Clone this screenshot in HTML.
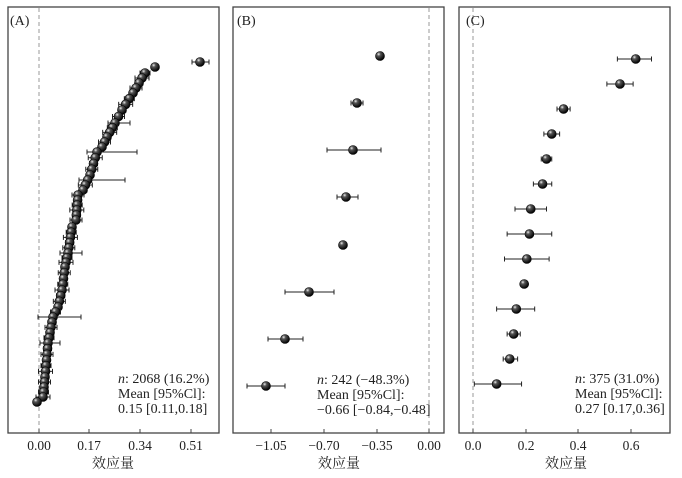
<!DOCTYPE html>
<html><head><meta charset="utf-8"><style>
body{margin:0;background:#fff}
svg text{font-family:"Liberation Serif","Noto Serif CJK SC",serif;fill:#222}
</style></head><body>
<svg id="s" width="682" height="473" xmlns="http://www.w3.org/2000/svg">
<defs><radialGradient id="g" cx="0.35" cy="0.3" r="0.7"><stop offset="0" stop-color="#eee"/><stop offset="0.3" stop-color="#555"/><stop offset="1" stop-color="#000"/></radialGradient></defs>
<g id="c"></g>
</svg>
<script>
const s=document.getElementById('c');let h='';
function frame(x1,x2,y1,y2){h+=`<rect x="${x1}" y="${y1}" width="${x2-x1}" height="${y2-y1}" fill="none" stroke="#444" stroke-width="1.3"/>`;}
function dash(x){h+=`<line x1="${x}" y1="8" x2="${x}" y2="432" stroke="#999" stroke-width="1" stroke-dasharray="4,3"/>`;}
function tick(x,l){h+=`<line x1="${x}" y1="433" x2="${x}" y2="429" stroke="#444"/><text x="${x}" y="450" font-size="13.5" text-anchor="middle">${l}</text>`;}
function pt(x,y,a,b){if(a!=null){h+=`<line x1="${a}" y1="${y}" x2="${b}" y2="${y}" stroke="#222" stroke-width="1"/><line x1="${a}" y1="${y-2.5}" x2="${a}" y2="${y+2.5}" stroke="#222"/><line x1="${b}" y1="${y-2.5}" x2="${b}" y2="${y+2.5}" stroke="#222"/>`;}
h+=`<circle cx="${x}" cy="${y}" r="4.5" fill="url(#g)" stroke="#000" stroke-width="0.6"/>`;}
function txt(x,y,a,b,c){h+=`<text x="${x}" y="${y}" font-size="14"><tspan font-style="italic">n</tspan>${a}</text><text x="${x}" y="${y+15}" font-size="14">${b}</text><text x="${x}" y="${y+30}" font-size="14">${c}</text>`;}
// A
frame(8,219,7,433);dash(39);
[[39,'0.00'],[89,'0.17'],[140,'0.34'],[191,'0.51']].forEach(t=>tick(...t));
h+=`<text x="10" y="25" font-size="14">(A)</text>`;
const P=[[155,67],[145,73],[133,93],[122,110],[115,123],[107,137],[102,147],[97,152],[90,175],[83,190],[78,195],[76,220],[72,227],[68,253],[65,267],[62,290],[58,307],[53,317],[48,343],[45,377],[43,397]];
let pts=[];
for(let i=0;i<P.length-1;i++){const[a,b]=P[i],[c,d]=P[i+1];const n=Math.max(1,Math.round((d-b)/5.3));for(let k=0;k<n;k++){pts.push([a+(c-a)*k/n,b+(d-b)*k/n]);}}
pts.push([43,397]);
const wide={};wide[Math.round(pts.length*0.25)]=[87,137];wide[Math.round(pts.length*0.74)]=[38,81];wide[Math.round(pts.length*0.34)]=[79,125];wide[Math.round(pts.length*0.82)]=[40,60];wide[Math.round(pts.length*0.55)]=[60,82];wide[Math.round(pts.length*0.16)]=[108,130];
pts.forEach((p,i)=>{let e=wide[i];let w=(i*7%5)+3;if(!e)e=[p[0]-w,p[0]+w];pt(p[0],p[1],e[0],e[1]);});
pt(200,62,192,209);pt(37,402,34,40);
txt(118,383,': 2068 (16.2%)','Mean [95%Cl]:','0.15 [0.11,0.18]');
h+=`<text x="113" y="468" font-size="14" text-anchor="middle">效应量</text>`;
// B
frame(233,444,7,433);dash(429);
[[271,'\u22121.05'],[324,'\u22120.70'],[377,'\u22120.35'],[429,'0.00']].forEach(t=>tick(...t));
h+=`<text x="237" y="25" font-size="14">(B)</text>`;
[[380,56],[357,103,351,363],[353,150,327,381],[346,197,337,358],[343,245],[309,292,285,334],[285,339,268,303],[266,386,247,285]].forEach(q=>pt(q[0],q[1],q[2],q[3]));
txt(317,384,': 242 (\u221248.3%)','Mean [95%Cl]:','\u22120.66 [\u22120.84,\u22120.48]');
h+=`<text x="339" y="468" font-size="14" text-anchor="middle">效应量</text>`;
// C
frame(459,670,7,433);dash(473);
[[473,'0.0'],[526,'0.2'],[578,'0.4'],[631,'0.6']].forEach(t=>tick(...t));
h+=`<text x="466" y="25" font-size="14">(C)</text>`;
const X=v=>473+v*262.5;
[[.62,.55,.68],[.56,.51,.61],[.345,.32,.37],[.30,.27,.33],[.28,.26,.30],[.265,.23,.30],[.22,.16,.28],[.215,.13,.30],[.205,.12,.29],[.195],[.165,.09,.235],[.155,.13,.18],[.14,.115,.17],[.09,.005,.185]].forEach((v,i)=>{const y=59+i*25;pt(X(v[0]),y,v[1]!=null?X(v[1]):null,v[2]!=null?X(v[2]):null);});
txt(575,383,': 375 (31.0%)','Mean [95%Cl]:','0.27 [0.17,0.36]');
h+=`<text x="566" y="468" font-size="14" text-anchor="middle">效应量</text>`;
s.innerHTML=h;
</script>
</body></html>
